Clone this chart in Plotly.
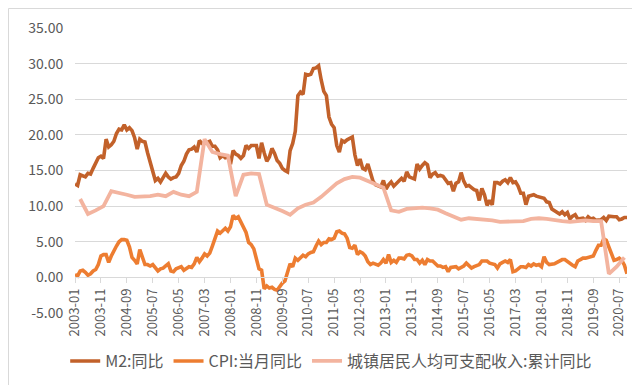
import plotly.graph_objects as go

# ---------------- data ----------------
m2_2003 = [13.1, 12.9, 14.4, 14.3, 14.1, 14.6, 14.5, 15.3, 16.1, 16.8, 17.0, 16.7]
m2_2004 = [19.4, 18.3, 18.6, 19.1, 20.2, 20.8, 20.7, 21.4, 20.7, 21.0, 20.6, 19.6]
m2_2005 = [18.0, 19.4, 19.1, 19.0, 17.5, 16.2, 15.3, 13.6, 13.9, 13.4, 14.0, 14.6]
m2_2006 = [14.1, 13.8, 14.0, 14.1, 14.6, 15.7, 16.3, 17.3, 17.9, 18.0, 18.3, 17.6]
m2_2007 = [19.2, 18.8, 18.8, 18.9, 19.1, 18.4, 18.4, 17.9, 16.8, 17.1, 16.8, 16.9]
m2_2008 = [15.9, 17.8, 17.3, 17.1, 16.7, 17.1, 18.5, 18.1, 18.5, 18.5, 18.5, 16.7]
m2_2009 = [18.9, 17.5, 16.3, 16.9, 18.1, 17.4, 16.4, 16.0, 15.3, 15.0, 14.8, 17.8]
m2_2010 = [18.8, 20.5, 25.5, 26.0, 25.7, 28.5, 28.4, 28.5, 29.3, 29.4, 29.7, 27.7]
m2_2011 = [26.1, 25.5, 22.5, 21.5, 21.0, 18.5, 17.6, 19.2, 19.0, 19.3, 19.5, 19.7]
m2_2012 = [17.2, 15.7, 16.6, 15.3, 15.1, 15.9, 14.7, 13.5, 13.0, 12.9, 12.7, 13.6]
m2_2013 = [12.4, 13.0, 13.4, 12.8, 13.2, 13.6, 13.9, 13.5, 14.8, 14.1, 13.9, 13.8]
m2_2014 = [15.9, 15.2, 15.7, 16.1, 15.8, 14.0, 14.5, 14.7, 14.2, 14.3, 14.2, 13.6]
m2_2015 = [13.2, 13.3, 12.1, 13.2, 13.4, 14.7, 13.5, 12.8, 12.9, 12.6, 12.3, 12.2]
m2_2016 = [10.8, 12.5, 11.6, 10.1, 10.8, 10.2, 13.3, 13.3, 13.1, 13.5, 13.7, 13.3]
m2_2017 = [14.0, 13.3, 13.4, 12.8, 11.8, 11.8, 10.2, 11.4, 11.5, 11.6, 11.4, 11.3]
m2_2018 = [11.3, 11.1, 10.6, 10.5, 9.6, 9.4, 9.2, 8.9, 9.2, 8.8, 9.1, 8.2]
m2_2019 = [8.6, 8.8, 8.2, 8.3, 8.3, 8.0, 8.5, 8.2, 8.3, 8.0, 8.0, 8.1]
m2_2020 = [8.4, 8.0, 8.6, 8.5, 8.5, 8.5, 8.1, 8.2, 8.4, 8.4]

cpi_2003 = [0.4, 0.2, 0.9, 1.0, 0.7, 0.3, 0.5, 0.9, 1.1, 1.8, 3.0, 3.2]
cpi_2004 = [3.2, 2.1, 3.0, 3.8, 4.4, 5.0, 5.3, 5.3, 5.2, 4.3, 2.8, 2.4]
cpi_2005 = [1.9, 3.9, 2.7, 1.8, 1.8, 1.6, 1.8, 1.3, 0.9, 1.2, 1.3, 1.6]
cpi_2006 = [1.9, 0.9, 0.8, 1.2, 1.4, 1.5, 1.0, 1.3, 1.5, 1.4, 1.9, 2.8]
cpi_2007 = [2.2, 2.7, 3.3, 3.0, 3.4, 4.4, 5.6, 6.5, 6.2, 6.5, 6.9, 6.5]
cpi_2008 = [7.1, 8.7, 8.3, 8.5, 7.7, 7.1, 6.3, 4.9, 4.6, 4.0, 2.4, 1.2]
cpi_2009 = [1.0, -1.6, -1.2, -1.5, -1.4, -1.7, -1.8, -1.2, -0.8, -0.5, 0.6, 1.9]
cpi_2010 = [1.5, 2.7, 2.4, 2.8, 3.1, 2.9, 3.3, 3.5, 3.6, 4.4, 5.1, 4.6]
cpi_2011 = [4.9, 4.9, 5.4, 5.3, 5.5, 6.4, 6.5, 6.2, 6.1, 5.5, 4.2, 4.1]
cpi_2012 = [4.5, 3.2, 3.6, 3.4, 3.0, 2.2, 1.8, 2.0, 1.9, 1.7, 2.0, 2.5]
cpi_2013 = [2.0, 3.2, 2.1, 2.4, 2.1, 2.7, 2.7, 2.6, 3.1, 3.2, 3.0, 2.5]
cpi_2014 = [2.5, 2.0, 2.4, 1.8, 2.5, 2.3, 2.3, 2.0, 1.6, 1.6, 1.4, 1.5]
cpi_2015 = [0.8, 1.4, 1.4, 1.5, 1.2, 1.4, 1.6, 2.0, 1.6, 1.3, 1.5, 1.6]
cpi_2016 = [1.8, 2.3, 2.3, 2.3, 2.0, 1.9, 1.8, 1.3, 1.9, 2.1, 2.3, 2.1]
cpi_2017 = [2.5, 0.8, 0.9, 1.2, 1.5, 1.5, 1.4, 1.8, 1.6, 1.9, 1.7, 1.8]
cpi_2018 = [1.5, 2.9, 2.1, 1.8, 1.8, 1.9, 2.1, 2.3, 2.5, 2.5, 2.2, 1.9]
cpi_2019 = [1.7, 1.5, 2.3, 2.5, 2.7, 2.7, 2.8, 2.8, 3.0, 3.8, 4.5, 4.5]
cpi_2020 = [5.4, 5.2, 4.3, 3.3, 2.4, 2.5, 2.7, 2.4, 1.7, 0.5]

# urban per-capita disposable income, cumulative YoY (quarterly: Mar, Jun, Sep, Dec)
inc_2003 = [11.0, 8.9, 9.4, 10.0]
inc_2004 = [12.1, 11.9, 11.6, 11.3]
inc_2005 = [11.3, 11.4, 11.6, 11.4]
inc_2006 = [12.0, 11.6, 11.4, 12.0]
inc_2007 = [19.4, 17.6, 17.3, 17.1]
inc_2008 = [11.4, 14.4, 14.6, 14.5]
inc_2009 = [10.2, 9.8, 9.3, 8.8]
inc_2010 = [9.7, 10.2, 10.5, 11.3]
inc_2011 = [12.3, 13.2, 13.8, 14.1]
inc_2012 = [14.0, 13.5, 13.1, 12.6]
inc_2013 = [9.4, 9.2, 9.6, 9.7]
inc_2014 = [9.8, 9.7, 9.5, 9.0]
inc_2015 = [8.5, 8.1, 8.3, 8.2]
inc_2016 = [8.2, 8.0, 7.8, 7.8]
inc_2017 = [7.8, 7.9, 8.2, 8.3]
inc_2018 = [8.2, 8.0, 7.9, 7.8]
inc_2019 = [7.9, 8.0, 7.9, 7.9]
inc_2020 = [0.5, 1.5, 2.8]

x_tick_labels = ["2003-01", "2003-11", "2004-09", "2005-07", "2006-05", "2007-03",
                 "2008-01", "2008-11", "2009-09", "2010-07", "2011-05", "2012-03",
                 "2013-01", "2013-11", "2014-09", "2015-07", "2016-05", "2017-03",
                 "2018-01", "2018-11", "2019-09", "2020-07"]
y_tick_values = [-5, 0, 5, 10, 15, 20, 25, 30, 35]
y_tick_labels = ["-5.00", "0.00", "5.00", "10.00", "15.00", "20.00", "25.00", "30.00", "35.00"]

series_names = ["M2:同比", "CPI:当月同比", "城镇居民人均可支配收入:累计同比"]

# ---------------- assemble ----------------
years = list(range(2003, 2021))
m2 = sum([globals()[f"m2_{y}"] for y in years], [])
cpi = sum([globals()[f"cpi_{y}"] for y in years], [])
inc = sum([globals()[f"inc_{y}"] for y in years], [])

months = [f"{y}-{m:02d}" for y in years for m in range(1, 13)][:len(m2)]
inc_months = [f"{y}-{m:02d}" for y in years for m in (3, 6, 9, 12)][:len(inc)]

GRID = "#D9D9D9"
TXT = "#595959"
FONT = "Noto Sans CJK SC"

fig = go.Figure()
fig.add_trace(go.Scatter(x=months, y=m2, name=series_names[0], mode="lines",
                         line=dict(color="#C2612A", width=3.6)))
fig.add_trace(go.Scatter(x=months, y=cpi, name=series_names[1], mode="lines",
                         line=dict(color="#ED7D31", width=3.6)))
fig.add_trace(go.Scatter(x=inc_months, y=inc, name=series_names[2], mode="lines",
                         line=dict(color="#F3B49F", width=3.8)))

fig.update_layout(
    width=640, height=385,
    margin=dict(l=67, r=21, t=20, b=80, autoexpand=False),
    paper_bgcolor="white", plot_bgcolor="white",
    font=dict(family=FONT, color=TXT, size=13),
    showlegend=True,
    legend=dict(orientation="h", xref="container", yref="container",
                x=0.505, xanchor="center", y=0.083, yanchor="middle",
                font=dict(size=16, color=TXT, family=FONT),
                bgcolor="rgba(0,0,0,0)"),
    xaxis=dict(type="category", categoryorder="array", categoryarray=months,
               range=[0, len(months) - 1], automargin=False,
               tickmode="array", tickvals=x_tick_labels, ticktext=x_tick_labels,
               tickangle=-90, anchor="free", position=0.125,
               showline=True, linecolor=GRID, linewidth=1,
               ticks="outside", ticklen=5, tickcolor=GRID,
               showgrid=False, zeroline=False,
               tickfont=dict(size=13, color=TXT, family=FONT)),
    yaxis=dict(range=[-5, 35], tickmode="array", tickvals=y_tick_values, ticktext=y_tick_labels,
               automargin=False,
               showgrid=True, gridcolor=GRID, gridwidth=1, zeroline=False, showline=False,
               ticks="outside", ticklen=8, tickcolor="rgba(0,0,0,0)",
               tickfont=dict(size=14, color=TXT, family=FONT)),
)

fig.add_shape(type="rect", xref="paper", yref="paper",
              x0=(0.5 - 67) / 552, x1=(639.5 - 67) / 552,
              y0=(305 - 384.5) / 285, y1=(305 - 0.5) / 285,
              line=dict(color=GRID, width=1), fillcolor="rgba(0,0,0,0)", layer="below")

fig.write_html("out.html")
